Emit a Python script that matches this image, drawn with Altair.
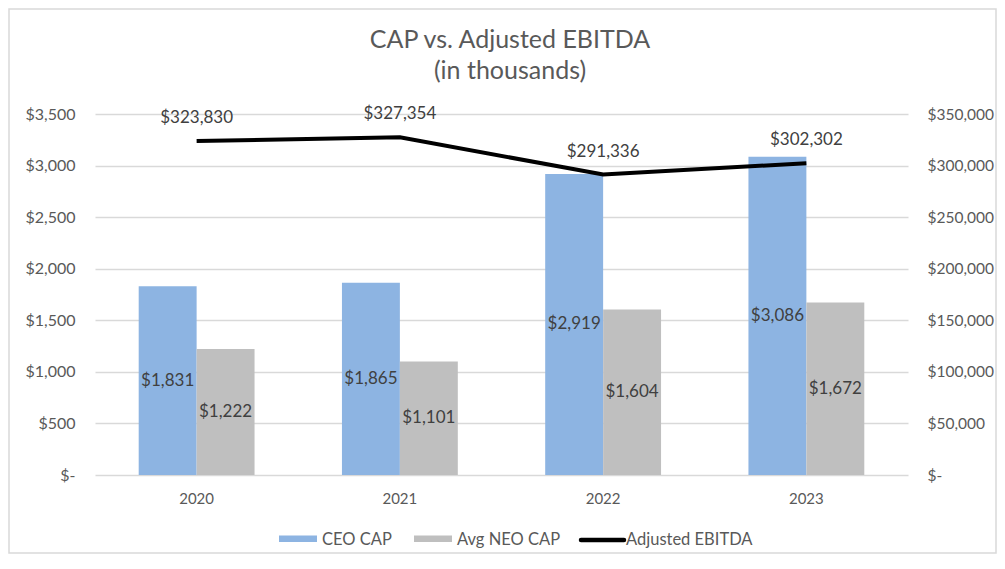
import altair as alt
import pandas as pd

years = ["2020", "2021", "2022", "2023"]
ceo_cap = [1831, 1865, 2919, 3086]
neo_cap = [1222, 1101, 1604, 1672]
ebitda = [323830, 327354, 291336, 302302]
series_names = ["CEO CAP", "Avg NEO CAP", "Adjusted EBITDA"]
series_colors = ["#8DB4E2", "#BFBFBF", "#000000"]
title_lines = ["CAP vs. Adjusted EBITDA", "(in thousands)"]

bar_df = pd.DataFrame(
    [{"year": y, "series": "CEO CAP", "value": v} for y, v in zip(years, ceo_cap)]
    + [{"year": y, "series": "Avg NEO CAP", "value": v} for y, v in zip(years, neo_cap)]
)
bar_df["label"] = bar_df["value"].map(lambda v: f"${v:,}")
line_df = pd.DataFrame({"year": years, "ebitda": ebitda})
line_df["label"] = line_df["ebitda"].map(lambda v: f"${v:,}")

FONT = "Lato"
TXT = "#595959"
W, H = 813, 361
PAD = {"left": 87, "top": 106, "right": 89, "bottom": 80}
one = pd.DataFrame({"k": [0]})

xenc = alt.X(
    "year:N",
    title=None,
    sort=years,
    scale=alt.Scale(paddingInner=0.43, paddingOuter=0.215),
    axis=alt.Axis(labelAngle=0, domain=False, ticks=False, grid=False, labelPadding=16,
                  labelFontSize=15, labelColor=TXT, labelFont=FONT),
)
xoff = alt.XOffset("series:N", sort=["CEO CAP", "Avg NEO CAP"],
                   scale=alt.Scale(paddingInner=0, paddingOuter=0))

yleft = alt.Y(
    "value:Q",
    title=None,
    scale=alt.Scale(domain=[0, 3500]),
    axis=alt.Axis(values=list(range(0, 3501, 500)), domain=False, ticks=False,
                  labelPadding=20, labelFontSize=16, labelColor=TXT, labelFont=FONT,
                  gridColor="#D9D9D9", gridWidth=1.3,
                  labelExpr="datum.value == 0 ? '$-' : '$' + format(datum.value, ',')"),
)

bars = alt.Chart(bar_df).mark_bar().encode(
    x=xenc,
    xOffset=xoff,
    y=yleft,
    color=alt.Color("series:N",
                    scale=alt.Scale(domain=series_names, range=series_colors),
                    legend=None),
)

bar_text = alt.Chart(bar_df).transform_calculate(mid="datum.value / 2").mark_text(
    fontSize=17, color="#404040", font=FONT, baseline="middle"
).encode(
    x=alt.X("year:N", sort=years),
    xOffset=alt.XOffset("series:N", sort=["CEO CAP", "Avg NEO CAP"]),
    y=alt.Y("mid:Q"),
    text="label:N",
)

yright = alt.Y(
    "ebitda:Q",
    title=None,
    scale=alt.Scale(domain=[0, 350000]),
    axis=alt.Axis(orient="right", values=list(range(0, 350001, 50000)), domain=False,
                  ticks=False, grid=False, labelPadding=19, labelFontSize=15.5,
                  labelColor=TXT, labelFont=FONT,
                  labelExpr="datum.value == 0 ? '$-' : '$' + format(datum.value, ',')"),
)

line = alt.Chart(line_df).mark_line(color="#000000", strokeWidth=4).encode(
    x=alt.X("year:N", sort=years),
    y=yright,
)
line_text = alt.Chart(line_df).mark_text(
    fontSize=17, color="#404040", font=FONT, dy=-23
).encode(
    x=alt.X("year:N", sort=years),
    y=alt.Y("ebitda:Q"),
    text="label:N",
)

# decorations: border, title, legend (pixel positions relative to plot origin)
border = alt.Chart(one).mark_rect(
    fill=None, stroke="#D9D9D9", strokeWidth=1.5, clip=False
).encode(
    x=alt.value(-PAD["left"] + 1), x2=alt.value(W + PAD["right"] - 1),
    y=alt.value(-PAD["top"] + 1), y2=alt.value(H + PAD["bottom"] - 2),
)

title_layers = [
    alt.Chart(one).mark_text(fontSize=25, font=FONT, color=TXT, align="center",
                             baseline="alphabetic").encode(
        x=alt.value(415), y=alt.value(yy), text=alt.value(t))
    for t, yy in zip(title_lines, [-66, -35])
]

LEG_Y = 425
legend_layers = []
sym_x = [184, 319, 486]
sym_w = [38, 38, 43]
lab_x = [227, 362, 531]
for i, name in enumerate(series_names):
    if i < 2:
        legend_layers.append(
            alt.Chart(one).mark_rect(color=series_colors[i]).encode(
                x=alt.value(sym_x[i]), x2=alt.value(sym_x[i] + sym_w[i]),
                y=alt.value(LEG_Y - 3.5), y2=alt.value(LEG_Y + 3)))
    else:
        legend_layers.append(
            alt.Chart(one).mark_rule(color=series_colors[i], strokeWidth=4.5,
                                     strokeCap="round").encode(
                x=alt.value(sym_x[i]), x2=alt.value(sym_x[i] + sym_w[i]),
                y=alt.value(LEG_Y + 1)))
    legend_layers.append(
        alt.Chart(one).mark_text(fontSize=16.5, font=FONT, color=TXT, align="left",
                                 baseline="middle").encode(
            x=alt.value(lab_x[i]), y=alt.value(LEG_Y + 1), text=alt.value(name)))

chart = alt.layer(
    border,
    alt.layer(bars, bar_text),
    alt.layer(line, line_text),
    *title_layers,
    *legend_layers,
).resolve_scale(y="independent").properties(
    width=W, height=H,
    padding=PAD,
    background="#ffffff",
    autosize=alt.AutoSizeParams(type="none"),
).configure_view(strokeOpacity=0, strokeWidth=0)

chart.save("out.html", embed_options={"renderer": "svg", "actions": False})
